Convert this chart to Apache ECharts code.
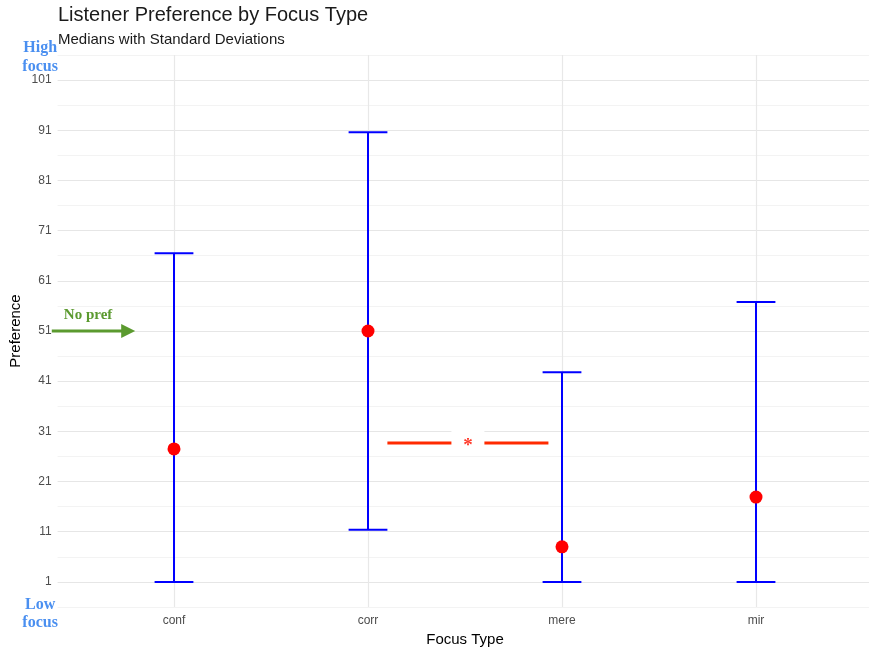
<!DOCTYPE html>
<html>
<head>
<meta charset="utf-8">
<title>Listener Preference by Focus Type</title>
<script src="https://cdn.jsdelivr.net/npm/echarts@6/dist/echarts.min.js"></script>
<style>
  html, body { margin: 0; padding: 0; background: #ffffff; }
  #chart { width: 869px; height: 651px; }
</style>
</head>
<body>
<div id="chart"></div>
<script>
// Focus types and their summary statistics
const categories = ['conf', 'corr', 'mere', 'mir'];
const medians = [27.5, 51, 8, 17.9];
const upperSD = [66.5, 90.6, 42.8, 56.8];
const lowerSD = [1, 11.4, 1, 1];

// Y-axis labelled ticks
const yTicks = [1, 11, 21, 31, 41, 51, 61, 71, 81, 91, 101];

// Significance bracket between corr and mere
const sigFrom = 1.1;
const sigTo = 1.93;
const sigLevel = 28.7;
const sigText = '*';

// "No preference" reference level
const noPrefLevel = 51;
const noPrefArrow = [-0.63, -0.2];
const noPrefLabel = [-0.443, 54.2, 'No pref'];

// Scale end labels
const highLabel = [-0.69, 105.5, 'High\nfocus'];
const lowLabel = [-0.69, -5.3, 'Low\nfocus'];

const SANS = '"Liberation Sans", Arial, Helvetica, sans-serif';
const SERIF = '"Liberation Serif", "Times New Roman", serif';

const chart = echarts.init(document.getElementById('chart'), null, { renderer: 'canvas' });

const errorData = categories.map((c, i) => [i, lowerSD[i], upperSD[i]]);
const pointData = categories.map((c, i) => [i, medians[i]]);

function textEl(pt, text, color, size, lineHeight) {
  return {
    type: 'text',
    style: {
      text: text,
      x: pt[0],
      y: pt[1],
      align: 'center',
      verticalAlign: 'middle',
      fill: color,
      fontSize: size,
      fontFamily: SERIF,
      fontWeight: 'bold',
      lineHeight: lineHeight
    }
  };
}

const option = {
  backgroundColor: '#ffffff',
  animation: false,
  title: {
    text: 'Listener Preference by Focus Type',
    subtext: 'Medians with Standard Deviations',
    left: 58,
    top: 5,
    padding: 0,
    itemGap: 7,
    textStyle: { fontFamily: SANS, fontSize: 20, fontWeight: 'normal', color: '#1a1a1a' },
    subtextStyle: { fontFamily: SANS, fontSize: 15, color: '#1a1a1a' }
  },
  grid: {
    left: 57.6, top: 55, width: 814.8, height: 552,
    containLabel: false,
    outerBoundsMode: 'none'
  },
  xAxis: {
    type: 'value',
    min: -0.6,
    max: 3.6,
    name: 'Focus Type',
    nameLocation: 'middle',
    nameGap: 25,
    nameMoveOverlap: false,
    nameTextStyle: { fontFamily: SANS, fontSize: 15, color: '#000000' },
    axisLine: { show: false },
    axisTick: { show: false, customValues: [0, 1, 2, 3] },
    axisLabel: {
      customValues: [0, 1, 2, 3],
      formatter: v => categories[Math.round(v)] || '',
      fontFamily: SANS, fontSize: 12, color: '#4d4d4d', margin: 8
    },
    splitLine: { show: true, lineStyle: { color: '#e8e8e8', width: 1.2 } }
  },
  yAxis: {
    type: 'value',
    min: -4,
    max: 106,
    interval: 5,
    name: 'Preference',
    nameLocation: 'middle',
    nameGap: 34,
    nameMoveOverlap: false,
    nameTextStyle: { fontFamily: SANS, fontSize: 15, color: '#000000' },
    axisLine: { show: false },
    axisTick: { show: false },
    axisLabel: {
      formatter: v => (yTicks.indexOf(Math.round(v)) >= 0 ? String(Math.round(v)) : ''),
      fontFamily: SANS, fontSize: 12, color: '#4d4d4d', margin: 6
    },
    splitLine: { show: true, lineStyle: { color: ['#f3f3f3', '#e6e6e6'], width: 1.1 } }
  },
  series: [
    {
      // error bars: vertical whisker with caps
      type: 'custom',
      z: 3,
      data: errorData,
      renderItem: function (params, api) {
        const i = api.value(0);
        const lo = api.value(1);
        const hi = api.value(2);
        const top = api.coord([i, hi]);
        const bot = api.coord([i, lo]);
        const capL = api.coord([i - 0.1, hi])[0];
        const capR = api.coord([i + 0.1, hi])[0];
        const st = { stroke: '#0000ff', lineWidth: 2 };
        return {
          type: 'group',
          children: [
            { type: 'line', shape: { x1: top[0], y1: top[1], x2: bot[0], y2: bot[1] }, style: st },
            { type: 'line', shape: { x1: capL, y1: top[1], x2: capR, y2: top[1] }, style: st },
            { type: 'line', shape: { x1: capL, y1: bot[1], x2: capR, y2: bot[1] }, style: st }
          ]
        };
      }
    },
    {
      type: 'scatter',
      z: 4,
      data: pointData,
      symbol: 'circle',
      symbolSize: 13,
      itemStyle: { color: '#ff0000', opacity: 1 }
    },
    {
      // significance bracket
      type: 'custom',
      z: 5,
      clip: false,
      data: [[sigFrom, sigTo, sigLevel]],
      renderItem: function (params, api) {
        const a = api.coord([api.value(0), api.value(2)]);
        const b = api.coord([api.value(1), api.value(2)]);
        const mid = (a[0] + b[0]) / 2;
        return {
          type: 'group',
          children: [
            { type: 'line', shape: { x1: a[0], y1: a[1], x2: b[0], y2: b[1] },
              style: { stroke: '#ff2a00', lineWidth: 3 } },
            { type: 'rect', shape: { x: mid - 16.5, y: a[1] - 13, width: 33, height: 25 },
              style: { fill: '#ffffff' } },
            textEl([mid, a[1] + 3], sigText, '#ff3a2a', 19, 19)
          ]
        };
      }
    },
    {
      // "no preference" arrow
      type: 'custom',
      z: 5,
      clip: false,
      data: [[noPrefArrow[0], noPrefArrow[1], noPrefLevel]],
      renderItem: function (params, api) {
        const s = api.coord([api.value(0), api.value(2)]);
        const e = api.coord([api.value(1), api.value(2)]);
        const head = 14;
        const color = '#5b9a2f';
        return {
          type: 'group',
          children: [
            { type: 'line', shape: { x1: s[0], y1: s[1], x2: e[0] - head + 2, y2: e[1] },
              style: { stroke: color, lineWidth: 3 } },
            { type: 'polygon', shape: { points: [[e[0], e[1]], [e[0] - head, e[1] - 7], [e[0] - head, e[1] + 7]] },
              style: { fill: color } }
          ]
        };
      }
    },
    {
      // text annotations
      type: 'custom',
      z: 6,
      clip: false,
      data: [
        [noPrefLabel[0], noPrefLabel[1], 0],
        [highLabel[0], highLabel[1], 1],
        [lowLabel[0], lowLabel[1], 2]
      ],
      renderItem: function (params, api) {
        const p = api.coord([api.value(0), api.value(1)]);
        const k = api.value(2);
        if (k === 0) return textEl(p, noPrefLabel[2], '#5b9a2f', 15, 18);
        if (k === 1) return textEl(p, highLabel[2], '#4a8ff0', 16, 19);
        return textEl(p, lowLabel[2], '#4a8ff0', 16, 18);
      }
    }
  ]
};

chart.setOption(option);
</script>
</body>
</html>
